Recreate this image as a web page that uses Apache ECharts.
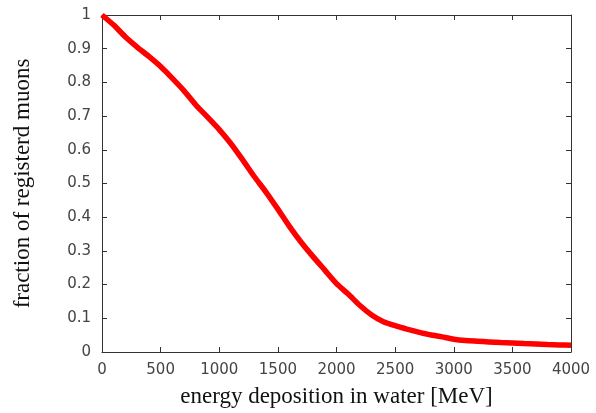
<!DOCTYPE html>
<html>
<head>
<meta charset="utf-8">
<script src="https://cdn.jsdelivr.net/npm/echarts@6/dist/echarts.min.js"></script>
<style>
  html, body { margin: 0; padding: 0; background: #fff; }
  #chart { width: 596px; height: 413px; }
</style>
</head>
<body>
<div id="chart"></div>
<script>
// energy deposition (MeV) and fraction of registered muons
var energy = [0, 100, 200, 300, 400, 500, 600, 700, 800, 900,
  1000, 1100, 1200, 1300, 1400, 1500, 1600, 1700, 1800, 1900,
  2000, 2100, 2200, 2300, 2400, 2500, 2600, 2700, 2800, 2900,
  3000, 3100, 3200, 3300, 3400, 3500, 3600, 3700, 3800, 3900, 4000];
var fraction = [1.00, 0.97, 0.935, 0.905, 0.877, 0.847, 0.812, 0.775, 0.733, 0.697,
  0.660, 0.618, 0.570, 0.520, 0.474, 0.424, 0.372, 0.325, 0.283, 0.243,
  0.203, 0.172, 0.138, 0.110, 0.090, 0.078, 0.068, 0.059, 0.051, 0.045,
  0.038, 0.034, 0.032, 0.030, 0.028, 0.027, 0.025, 0.024, 0.022, 0.021, 0.020];

var xTitle = 'energy deposition in water [MeV]';
var yTitle = 'fraction of registerd muons';

var axisColor = '#333';
var labelFont = { fontFamily: 'DejaVu Sans', fontSize: 15, color: '#444' };
var titleFont = { fontFamily: 'Liberation Serif', fontSize: 23, color: '#111' };

var points = energy.map(function (e, i) { return [e, fraction[i]]; });

var chart = echarts.init(document.getElementById('chart'));

// mirrored axes give the closed frame with inward ticks on all sides
function frameAxis(pos, max, step) {
  return {
    type: 'value', position: pos, min: 0, max: max, interval: step,
    axisLine: { show: true, onZero: false, lineStyle: { color: axisColor, width: 1 } },
    axisTick: { show: true, inside: true, length: 5, lineStyle: { color: axisColor } },
    axisLabel: { show: false },
    splitLine: { show: false }
  };
}

var option = {
  animation: false,
  grid: { left: 102, right: 25, top: 15, bottom: 59 },
  xAxis: [
    {
      type: 'value', position: 'bottom', min: 0, max: 4000, interval: 500,
      name: xTitle, nameLocation: 'middle', nameGap: 33,
      nameTextStyle: titleFont,
      axisLine: { show: true, onZero: false, lineStyle: { color: axisColor, width: 1 } },
      axisTick: { show: true, inside: true, length: 5, lineStyle: { color: axisColor } },
      axisLabel: Object.assign({ margin: 11, formatter: function (v) { return String(v); } }, labelFont),
      splitLine: { show: false }
    },
    frameAxis('top', 4000, 500)
  ],
  yAxis: [
    {
      type: 'value', position: 'left', min: 0, max: 1, interval: 0.1,
      name: yTitle, nameLocation: 'middle', nameGap: 68,
      nameTextStyle: titleFont,
      axisLine: { show: true, onZero: false, lineStyle: { color: axisColor, width: 1 } },
      axisTick: { show: true, inside: true, length: 5, lineStyle: { color: axisColor } },
      axisLabel: Object.assign({ margin: 11, formatter: function (v) { return String(+v.toFixed(1)); } }, labelFont),
      splitLine: { show: false }
    },
    frameAxis('right', 1, 0.1)
  ],
  series: [
    {
      type: 'line',
      data: points,
      showSymbol: false,
      smooth: 0.2,
      lineStyle: { color: '#ff0000', width: 5.5 },
      z: 5
    }
  ]
};

chart.setOption(option);
</script>
</body>
</html>
